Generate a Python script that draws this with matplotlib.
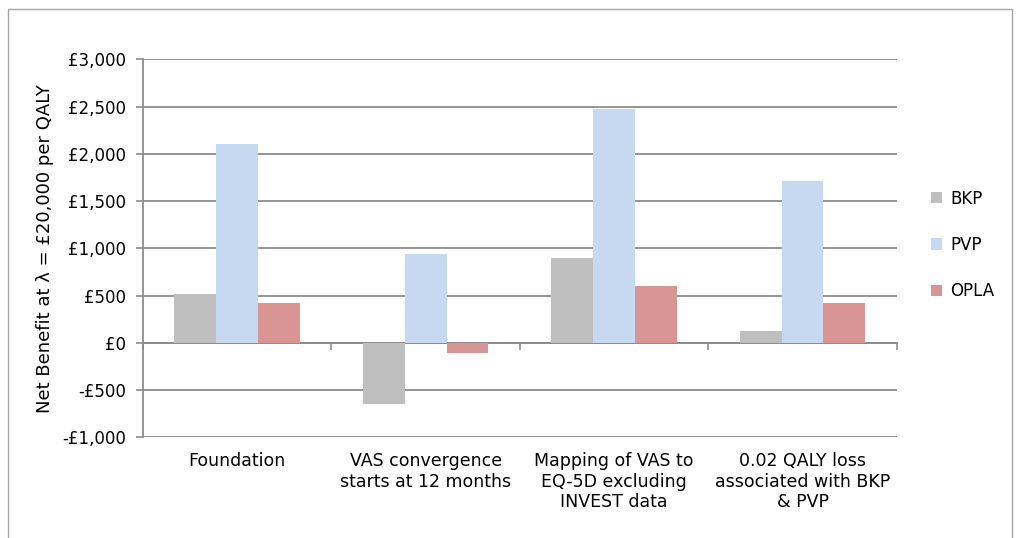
import matplotlib
matplotlib.use("Agg")
import matplotlib.pyplot as plt
import matplotlib.patches as mpatches
import matplotlib.transforms as mtransforms
import numpy as np

plt.rcParams["font.family"] = ["DejaVu Sans"]

categories = [
    "Foundation",
    "VAS convergence\nstarts at 12 months",
    "Mapping of VAS to\nEQ-5D excluding\nINVEST data",
    "0.02 QALY loss\nassociated with BKP\n& PVP",
]
series_names = ["BKP", "PVP", "OPLA"]
bkp = [511, -646, 896, 123]
pvp = [2100, 935, 2478, 1708]
opla = [424, -113, 600, 420]
y_ticks = [-1000, -500, 0, 500, 1000, 1500, 2000, 2500, 3000]
y_tick_labels = ["-£1,000", "-£500", "£0", "£500", "£1,000", "£1,500",
                 "£2,000", "£2,500", "£3,000"]

COLORS = ["#bfbfbf", "#c6d9f1", "#d99594"]
GRID = "#8c8c8c"
FS = 12

fig = plt.figure(figsize=(10.19, 5.38), dpi=100)
fig.patch.set_facecolor("white")
ax = fig.add_axes([0.1403, 0.1872, 0.880 - 0.1403, 0.8898 - 0.1872])

# outer chart frame
frame = mpatches.Rectangle((8 / 1019, -0.05), (1012 - 8) / 1019, 1.05 - 9 / 538,
                           transform=fig.transFigure, fill=False,
                           edgecolor="#a6a6a6", linewidth=1.0)
fig.patches.append(frame)

x = np.arange(len(categories))
w = 0.222
for i, (vals, name) in enumerate(zip([bkp, pvp, opla], series_names)):
    ax.bar(x + (i - 1) * w, vals, width=w, color=COLORS[i], label=name,
           zorder=3, edgecolor="none")

ax.set_xlim(-0.5, len(categories) - 0.5)
ax.set_ylim(-1000, 3000)
ax.set_yticks(y_ticks)
ax.set_yticklabels(y_tick_labels, fontsize=FS)
ax.tick_params(axis="y", length=5, color=GRID, width=1.2, pad=7)
ax.yaxis.grid(True, color=GRID, linewidth=1.3, zorder=0)
ax.set_axisbelow(True)

for s in ["top", "right"]:
    ax.spines[s].set_visible(False)
ax.spines["left"].set_color(GRID)
ax.spines["left"].set_linewidth(1.3)

# category axis sits at zero with tick marks between groups
ax.spines["bottom"].set_position(("data", 0))
ax.spines["bottom"].set_color(GRID)
ax.spines["bottom"].set_linewidth(1.3)
ax.set_xticks(np.arange(len(categories) + 1) - 0.5)
ax.set_xticklabels([])
ax.tick_params(axis="x", length=5, color=GRID, width=1.2, direction="out")

trans = mtransforms.blended_transform_factory(ax.transData, ax.transAxes)
for xi, lab in zip(x, categories):
    ax.text(xi, -0.04, lab, transform=trans, ha="center", va="top",
            fontsize=FS + 0.5, linespacing=1.15)

ax.set_ylabel("Net Benefit at λ = £20,000 per QALY", fontsize=13, labelpad=6)

ax.legend(loc="center left", bbox_to_anchor=(1.046, 0.509), frameon=False,
          fontsize=FS, handlelength=0.66, handleheight=0.66,
          handletextpad=0.45, labelspacing=1.7, borderaxespad=0, borderpad=0)

fig.savefig("out.png", dpi=100, facecolor="white")
